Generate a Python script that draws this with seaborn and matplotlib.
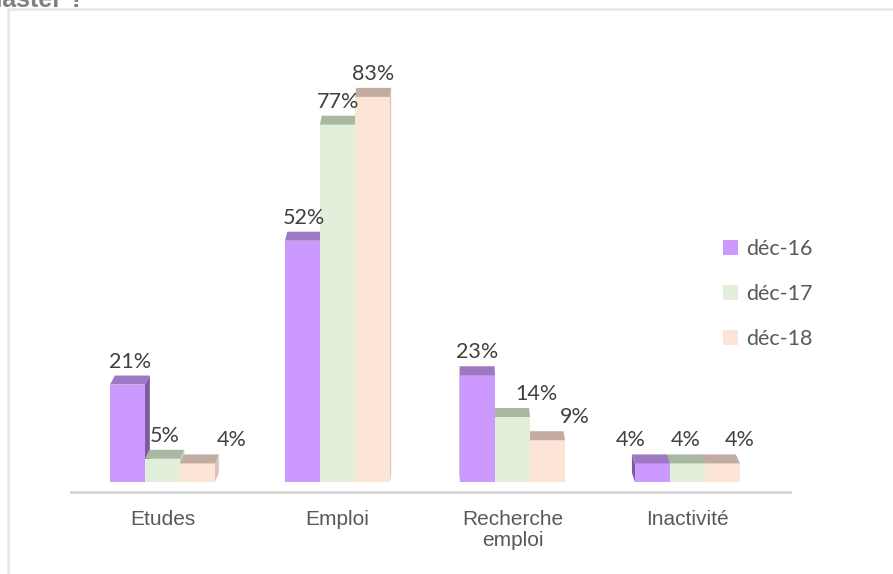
import pandas as pd
import matplotlib.pyplot as plt
import seaborn as sns
from matplotlib.patches import Polygon, Rectangle

categories = ['Etudes', 'Emploi', 'Recherche\nemploi', 'Inactivité']
periods = ['déc-16', 'déc-17', 'déc-18']
values_dec16 = [21, 52, 23, 4]
values_dec17 = [5, 77, 14, 4]
values_dec18 = [4, 83, 9, 4]

front_colors = ['#CC99FF', '#E2EFDA', '#FCE4D6']
top_colors = ['#9E78C2', '#A9B8A0', '#C2ABA0']
side_colors = ['#7E5AA0', '#C4D2BC', '#D9C2B6']

# Excel moved a few labels sideways, nudge them the same way (pixels)
label_nudge = {(0, 2): 32, (2, 1): 24, (2, 2): 28, (3, 0): -20, (3, 2): 19}

rows = []
for p, vals in zip(periods, [values_dec16, values_dec17, values_dec18]):
    for c, v in zip(categories, vals):
        rows.append({'categorie': c, 'periode': p, 'valeur': v})
df = pd.DataFrame(rows)

sns.set_style('white')
plt.rcParams['font.family'] = ['Lato', 'DejaVu Sans']

W, H = 893, 574
fig = plt.figure(figsize=(W / 100, H / 100), dpi=100)
ax = fig.add_axes([71 / W, 1 - 492 / H, (790 - 71) / W, (492 - 18) / H])

sns.barplot(data=df, x='categorie', y='valeur', hue='periode', hue_order=periods,
            palette=front_colors, saturation=1, width=0.6, errorbar=None,
            edgecolor='none', linewidth=0, ax=ax)

x0_lim, x1_lim = -0.523, 3.586
y0_lim, y1_lim = -2.16, 100
ax.set_xlim(x0_lim, x1_lim)
ax.set_ylim(y0_lim, y1_lim)

# pixel -> data units
ux = (x1_lim - x0_lim) / (790 - 71)
uy = (y1_lim - y0_lim) / (492 - 18)
depth = 9
center_px = 450

for j, cont in enumerate(ax.containers):
    for i, bar in enumerate(cont):
        bx, bw, bh = bar.get_x(), bar.get_width(), bar.get_height()
        mid_px = 71 + (bx + bw / 2 - x0_lim) / ux
        dx = (center_px - mid_px) * 0.015 * ux
        dz = depth * uy
        order = j if dx > 0 else 2 - j
        bar.set_zorder(3 + 2 * order)
        top = Polygon([(bx, bh), (bx + bw, bh), (bx + bw + dx, bh + dz), (bx + dx, bh + dz)],
                      closed=True, facecolor=top_colors[j], edgecolor='none',
                      zorder=3 + 2 * order)
        ax.add_patch(top)
        ex = bx + bw if dx > 0 else bx
        side = Polygon([(ex, 0), (ex, bh), (ex + dx, bh + dz), (ex + dx, dz)],
                       closed=True, facecolor=side_colors[j], edgecolor='none',
                       zorder=2 + 2 * order)
        ax.add_patch(side)
        nudge = label_nudge.get((i, j), 0) * ux
        ax.text(bx + bw / 2 + dx / 2 + nudge, bh + (depth + 4) * uy, f'{bh:.0f}%',
                ha='center', va='bottom', fontsize=15.5, color='#404040', zorder=20)

for s in ['top', 'left', 'right']:
    ax.spines[s].set_visible(False)
ax.spines['bottom'].set_color('#D6D6D6')
ax.spines['bottom'].set_linewidth(2)
ax.set_yticks([])
ax.set_xlabel('')
ax.set_ylabel('')
ax.tick_params(axis='x', length=0, pad=13)
for t in ax.get_xticklabels():
    t.set_fontfamily(['Liberation Sans', 'DejaVu Sans'])
    t.set_fontsize(15)
    t.set_color('#595959')
    t.set_linespacing(1.1)

handles, labels = ax.get_legend_handles_labels()
ax.legend(handles, labels, loc='center left', bbox_to_anchor=(0.788, 0.488),
          bbox_transform=fig.transFigure, frameon=False, handlelength=0.7,
          handleheight=0.7, labelspacing=1.15, handletextpad=0.35,
          prop={'size': 15.5}, labelcolor='#595959')

# chart frame and the cut-off title above it
fig.add_artist(Rectangle((8 / W, -0.1), 1.1, 1 - 9 / H + 0.1, transform=fig.transFigure,
                         fill=False, edgecolor='#E6E6E6', linewidth=1.8))
fig.text(84 / W, 1 - 7 / H, 'master ?', ha='right', va='baseline', fontsize=18,
         fontweight='bold', color='#7F7F7F', family=['Liberation Sans', 'DejaVu Sans'])

fig.savefig('out.png', dpi=100)
